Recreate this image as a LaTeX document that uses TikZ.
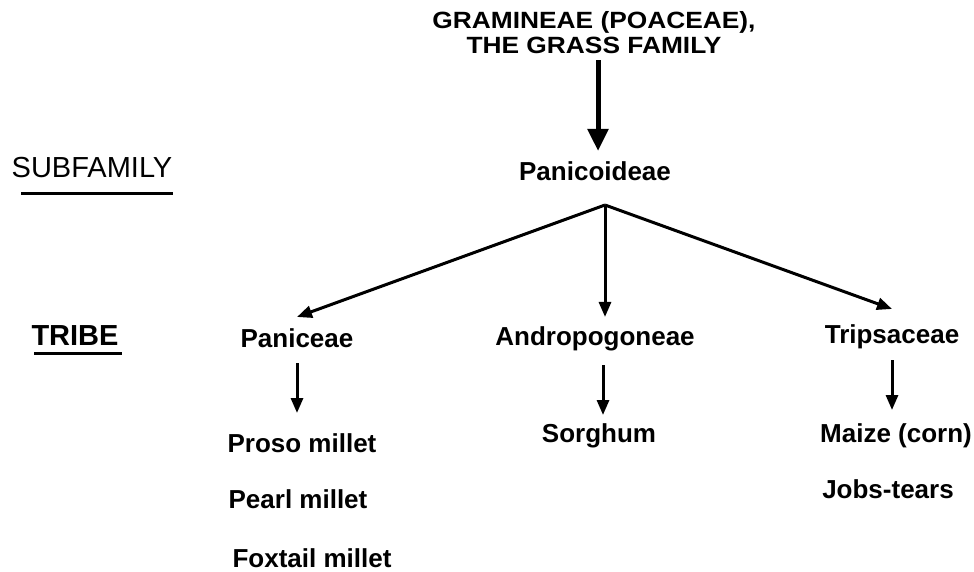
\documentclass[tikz,border=0pt]{standalone}
\usepackage{fontspec}
\setmainfont{Liberation Sans}
\newfontfamily\titlefont{Liberation Sans}[FakeStretch=1.12]
\usetikzlibrary{arrows.meta}

\begin{document}
\begin{tikzpicture}[
  x=1pt, y=-1pt,
  every node/.style={font=\fontsize{26}{24}\selectfont\bfseries, inner sep=0pt, anchor=base},
  rank/.style={font=\fontsize{29}{30}\selectfont},
  bigarrow/.style={-{Triangle[length=22pt,width=20pt]}, line width=5pt},
  arrow/.style={-{Triangle[length=15pt,width=12pt]}, line width=3pt},
  rule/.style={line width=3pt}
]
\useasboundingbox (0,0) rectangle (974,571);

% Nodes
\node[align=center, anchor=center, font=\titlefont\fontsize{23.5}{25}\selectfont\bfseries] (family) at (594,33) {GRAMINEAE (POACEAE),\\ THE GRASS FAMILY};
\node (panicoid) at (595,180) {Panicoideae};

\node[rank] (subfam) at (92,177) {SUBFAMILY};
\node[rank] (tribe) at (75,345) {\bfseries TRIBE};

\node (paniceae) at (297,347) {Paniceae};
\node (andro) at (595,345) {Andropogoneae};
\node (trips) at (892,343) {Tripsaceae};

\node (proso) at (302,452) {Proso millet};
\node (pearl) at (298,508) {Pearl millet};
\node (foxtail) at (312,567) {Foxtail millet};
\node (sorghum) at (599,442) {Sorghum};
\node (maize) at (896,442) {Maize (corn)};
\node (jobs) at (888,498) {Jobs-tears};

\coordinate (fork) at (605,205);

% Underlines
\draw[rule] ([xshift=10pt,yshift=-16pt]subfam.base west) -- ([yshift=-16pt]subfam.base east);
\draw[rule] ([xshift=3pt,yshift=-8pt]tribe.base west) -- ([xshift=3pt,yshift=-8pt]tribe.base east);

% Arrows
\draw[bigarrow] ([xshift=4pt,yshift=-6pt]family.south) -- ([xshift=4pt,yshift=10pt]family.south |- panicoid.north);

\draw[arrow] (fork) -- ([yshift=11pt]paniceae.north);
\draw[arrow] (fork) -- ([yshift=9pt]fork |- andro.north);
\draw[arrow] (fork) -- ([yshift=15pt]trips.north);

\draw[arrow] ([yshift=-16pt]paniceae.base) -- ([yshift=39pt]paniceae.base |- proso.base);
\draw[arrow] ([xshift=8pt,yshift=-20pt]andro.base) -- ([xshift=8pt,yshift=27pt]andro.base |- sorghum.base);
\draw[arrow] ([yshift=-17pt]trips.base) -- ([yshift=32pt]trips.base |- maize.base);
\end{tikzpicture}
\end{document}
